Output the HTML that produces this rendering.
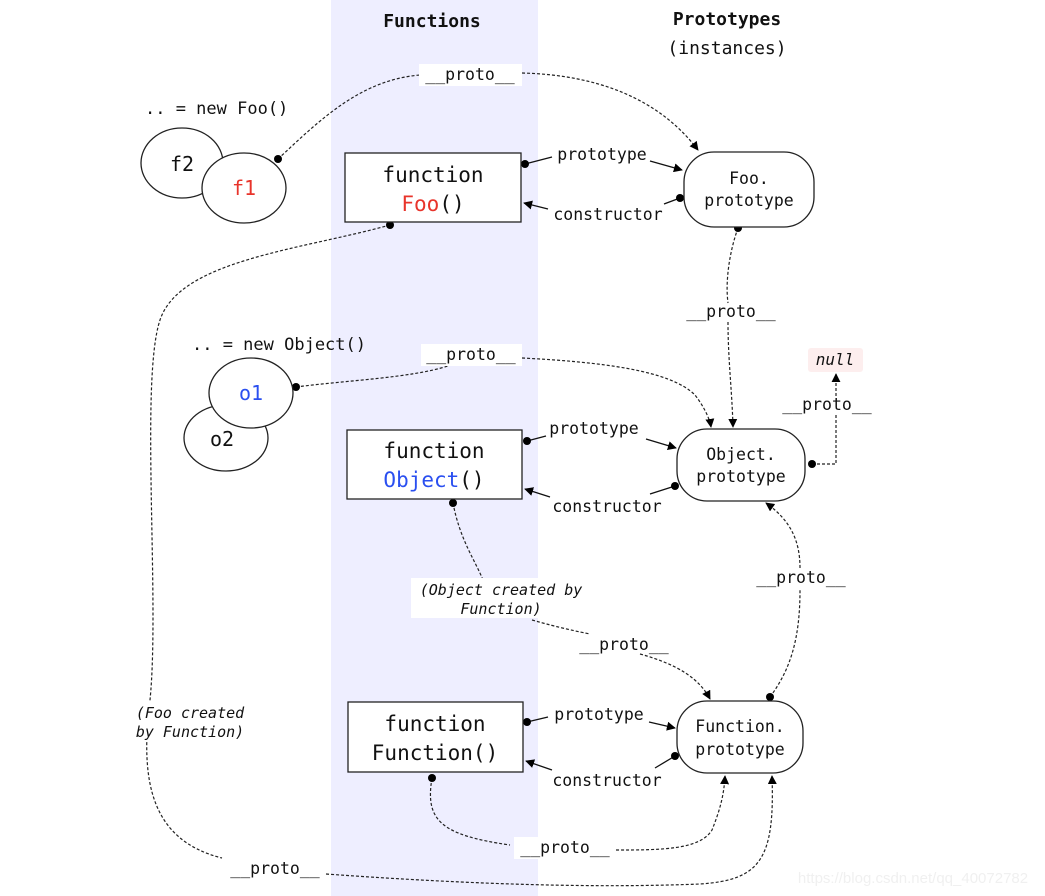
<!DOCTYPE html>
<html><head><meta charset="utf-8"><style>
html,body{margin:0;padding:0;background:#fff;}
svg{display:block;}
text{font-family:"DejaVu Sans Mono","Liberation Mono",monospace;fill:#111;}
</style></head><body>
<svg width="1045" height="896" viewBox="0 0 1045 896" xmlns="http://www.w3.org/2000/svg">
<defs>
<marker id="a" viewBox="0 0 10 10" refX="9" refY="5" markerWidth="9" markerHeight="9" orient="auto" markerUnits="userSpaceOnUse"><path d="M0,0 L10,5 L0,10 z" fill="#000"/></marker>
</defs>
<rect x="331" y="0" width="207" height="896" fill="#eeeeff"/>
<text x="432" y="27" font-size="18" font-weight="bold" text-anchor="middle">Functions</text>
<text x="727" y="25" font-size="18" font-weight="bold" text-anchor="middle">Prototypes</text>
<text x="727" y="54" font-size="18" text-anchor="middle">(instances)</text>

<g fill="none" stroke="#222" stroke-width="1.2" stroke-dasharray="3,2">
<path d="M278,159 C320,120 360,80 420,75"/>
<path d="M522,73 C600,75 660,100 698,150" marker-end="url(#a)"/>
<path d="M738,228 C730,250 725,280 728,303"/>
<path d="M728,322 C728,360 732,390 733,427" marker-end="url(#a)"/>
<path d="M296,387 C350,380 410,378 448,366"/>
<path d="M522,358 C600,362 670,370 695,395 C705,408 710,420 711,427" marker-end="url(#a)"/>
<path d="M812,464 L836,464 L836,415"/>
<path d="M836,396 L836,374" marker-end="url(#a)"/>
<path d="M453,503 C460,540 475,560 483,580"/>
<path d="M532,620 C560,628 580,632 590,634"/>
<path d="M640,654 C680,665 700,680 710,699" marker-end="url(#a)"/>
<path d="M770,697 C790,670 800,640 800,590"/>
<path d="M800,568 C800,540 790,520 766,503" marker-end="url(#a)"/>
<path d="M432,778 C425,820 440,835 510,845"/>
<path d="M616,850 C660,850 700,850 712,830 C720,810 724,795 725,776" marker-end="url(#a)"/>
<path d="M390,225 C300,250 180,260 160,320 C140,380 160,600 150,700 C140,780 150,840 222,858"/>
<path d="M326,874 C480,885 600,888 700,884 C760,880 775,860 772,776" marker-end="url(#a)"/>
</g>

<g fill="none" stroke="#111" stroke-width="1.3">
<path d="M525,164 L552,157"/><path d="M650,161 L682,170" marker-end="url(#a)"/>
<path d="M680,198 L664,204"/><path d="M548,209 L524,203" marker-end="url(#a)"/>
<path d="M527,441 L546,436"/><path d="M646,439 L676,448" marker-end="url(#a)"/>
<path d="M675,486 L650,494"/><path d="M550,497 L525,489" marker-end="url(#a)"/>
<path d="M527,722 L548,717"/><path d="M649,722 L675,728" marker-end="url(#a)"/>
<path d="M675,756 L655,768"/><path d="M552,770 L526,761" marker-end="url(#a)"/>
</g>
<g fill="#000">
<circle cx="278" cy="159" r="4"/><circle cx="390" cy="225" r="4"/><circle cx="738" cy="228" r="4"/>
<circle cx="296" cy="387" r="4"/><circle cx="812" cy="464" r="4"/><circle cx="453" cy="503" r="4"/>
<circle cx="770" cy="697" r="4"/><circle cx="432" cy="778" r="4"/>
<circle cx="525" cy="164" r="4"/><circle cx="680" cy="198" r="4"/>
<circle cx="527" cy="441" r="4"/><circle cx="675" cy="486" r="4"/>
<circle cx="527" cy="722" r="4"/><circle cx="675" cy="756" r="4"/>
</g>

<g stroke="#222" stroke-width="1.3" fill="#fff">
<ellipse cx="182" cy="163" rx="41" ry="35"/>
<ellipse cx="244" cy="188" rx="42" ry="35"/>
<ellipse cx="226" cy="438" rx="42" ry="33"/>
<ellipse cx="251" cy="393" rx="42" ry="35"/>
<rect x="345" y="153" width="176" height="69"/>
<rect x="347" y="430" width="175" height="69"/>
<rect x="348" y="702" width="175" height="70"/>
<rect x="684" y="152" width="130" height="75" rx="30"/>
<rect x="677" y="429" width="128" height="72" rx="30"/>
<rect x="677" y="701" width="126" height="72" rx="30"/>
</g>
<text x="145" y="114" font-size="17">.. = new Foo()</text>
<text x="192" y="350" font-size="17">.. = new Object()</text>
<text x="182" y="171" font-size="20" text-anchor="middle">f2</text>
<text x="244" y="195" font-size="20" text-anchor="middle" style="fill:#e8342b">f1</text>
<text x="251" y="400" font-size="20" text-anchor="middle" style="fill:#2a4ff0">o1</text>
<text x="222" y="446" font-size="20" text-anchor="middle">o2</text>
<text x="433" y="182" font-size="21" text-anchor="middle">function</text>
<text x="433" y="211" font-size="21" text-anchor="middle"><tspan style="fill:#e8342b">Foo</tspan>()</text>
<text x="434" y="458" font-size="21" text-anchor="middle">function</text>
<text x="434" y="487" font-size="21" text-anchor="middle"><tspan style="fill:#2a4ff0">Object</tspan>()</text>
<text x="435" y="731" font-size="21" text-anchor="middle">function</text>
<text x="435" y="760" font-size="21" text-anchor="middle">Function()</text>
<text x="749" y="184" font-size="16.5" text-anchor="middle">Foo.</text>
<text x="749" y="206" font-size="16.5" text-anchor="middle">prototype</text>
<text x="741" y="460" font-size="16.5" text-anchor="middle">Object.</text>
<text x="741" y="482" font-size="16.5" text-anchor="middle">prototype</text>
<text x="740" y="732" font-size="16.5" text-anchor="middle">Function.</text>
<text x="740" y="755" font-size="16.5" text-anchor="middle">prototype</text>

<rect x="419" y="64" width="103" height="22" fill="#fff"/>
<text x="470" y="80" font-size="16.5" text-anchor="middle">__proto__</text>
<rect x="421" y="344" width="101" height="22" fill="#fff"/>
<text x="471" y="360" font-size="16.5" text-anchor="middle">__proto__</text>
<text x="731" y="317" font-size="16.5" text-anchor="middle">__proto__</text>
<text x="827" y="410" font-size="16.5" text-anchor="middle">__proto__</text>
<text x="801" y="583" font-size="16.5" text-anchor="middle">__proto__</text>
<text x="624" y="650" font-size="16.5" text-anchor="middle">__proto__</text>
<rect x="514" y="837" width="102" height="22" fill="#fff"/>
<text x="565" y="853" font-size="16.5" text-anchor="middle">__proto__</text>
<text x="275" y="874" font-size="16.5" text-anchor="middle">__proto__</text>
<rect x="808" y="348" width="55" height="24" rx="3" fill="#fdeeee"/>
<text x="835" y="365" font-size="16" font-style="italic" text-anchor="middle">null</text>
<text x="602" y="160" font-size="16.5" text-anchor="middle">prototype</text>
<text x="608" y="220" font-size="16.5" text-anchor="middle">constructor</text>
<text x="594" y="434" font-size="16.5" text-anchor="middle">prototype</text>
<text x="607" y="512" font-size="16.5" text-anchor="middle">constructor</text>
<text x="599" y="720" font-size="16.5" text-anchor="middle">prototype</text>
<text x="607" y="786" font-size="16.5" text-anchor="middle">constructor</text>
<rect x="411" y="578" width="179" height="40" fill="#fff"/>
<text x="501" y="595" font-size="15" font-style="italic" text-anchor="middle">(Object created by</text>
<text x="501" y="614" font-size="15" font-style="italic" text-anchor="middle">Function)</text>
<rect x="128" y="702" width="124" height="40" fill="#fff"/>
<text x="190" y="718" font-size="15" font-style="italic" text-anchor="middle">(Foo created</text>
<text x="190" y="737" font-size="15" font-style="italic" text-anchor="middle">by Function)</text>
<text x="913" y="883" font-size="15" text-anchor="middle" style="fill:#f0f0f0;font-family:'Liberation Sans',sans-serif">https://blog.csdn.net/qq_40072782</text>
</svg>
</body></html>
